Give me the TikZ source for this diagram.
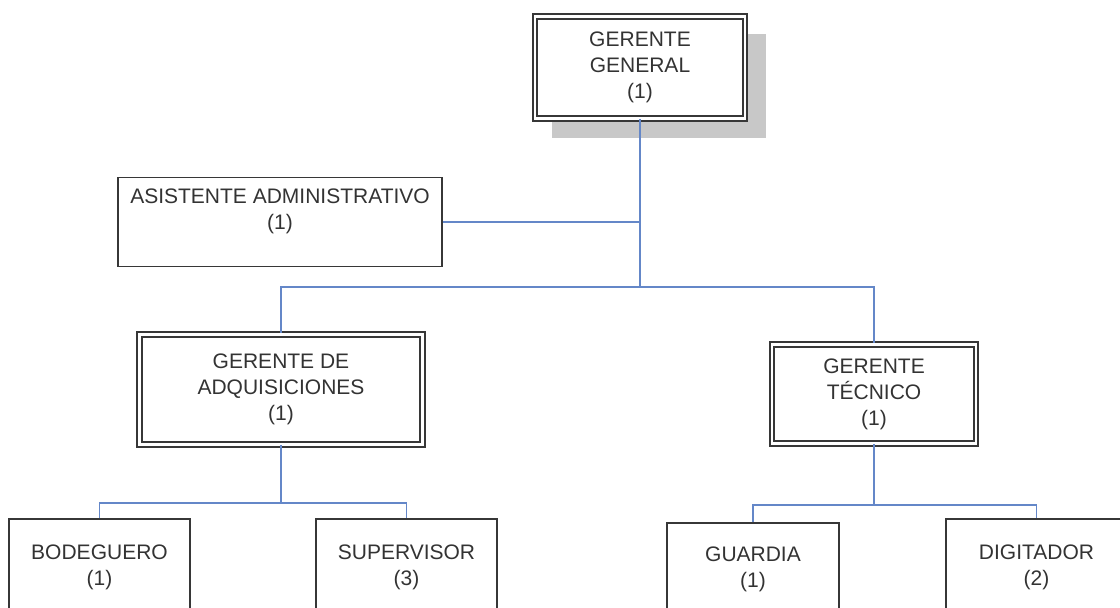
\documentclass[tikz,border=0pt]{standalone}
\usepackage{fontspec}
\setmainfont{Liberation Sans}
\usepackage{xcolor}
\usepackage{tikz}
\usetikzlibrary{shadows}
\definecolor{linkblue}{RGB}{100,135,200}
\definecolor{boxgray}{RGB}{55,55,55}
\definecolor{textgray}{RGB}{51,51,51}
\definecolor{shadowgray}{RGB}{200,200,200}

\begin{document}
\begin{tikzpicture}[
x=0.5pt, y=-0.5pt,
squarednode/.style={rectangle, draw=boxgray, line width=0.7pt, fill=white, align=center, text=textgray, font=\fontsize{10.5pt}{13pt}\selectfont, inner sep=0pt},
doublenode/.style={squarednode, line width=1pt, double=white, double distance=1.4pt},
link/.style={draw=linkblue, line width=0.7pt},
]
\useasboundingbox (0,0) rectangle (1120,608);
\clip (0,0) rectangle (1120,608);
\fill[white] (0,0) rectangle (1120,608);

%Nodes
\node[doublenode, minimum width=105pt, minimum height=51pt, drop shadow={shadow xshift=9.5pt, shadow yshift=-9pt, shadow scale=1.02, fill=shadowgray, opacity=1}](Gerente General) at (640,67.5) {GERENTE\\GENERAL\\(1)};

\node[squarednode, minimum width=162pt, minimum height=44.5pt, text depth=13pt](Asistente administrativo) at (280,222) {ASISTENTE ADMINISTRATIVO\\(1)};

\node[doublenode, minimum width=141.5pt, minimum height=55pt](Gerente de adquisiciones) at (281,389.5) {GERENTE DE\\ADQUISICIONES\\(1)};
\node[doublenode, minimum width=102pt, minimum height=49.5pt](Gerente tecnico) at (874,394) {GERENTE\\TÉCNICO\\(1)};

\node[squarednode, minimum width=90.5pt, minimum height=48pt](Bodeguero) at (99.5,567) {BODEGUERO\\(1)};
\node[squarednode, minimum width=90.5pt, minimum height=48pt](Supervisor) at (406.5,567) {SUPERVISOR\\(3)};
\node[squarednode, minimum width=86pt, minimum height=46pt](Guardia) at (753,569) {GUARDIA\\(1)};
\node[squarednode, minimum width=90.5pt, minimum height=48pt](Digitador) at (1036.5,567) {DIGITADOR\\(2)};

\coordinate (main split) at (640,287);
\coordinate (adquisiciones split) at (281,503);
\coordinate (tecnico split) at (874,505);

%Lines
\draw[link] (Gerente General.south) -- (main split);
\draw[link] (Asistente administrativo.east) -- (Asistente administrativo.east -| main split);
\draw[link] (main split) -| (Gerente de adquisiciones.north);
\draw[link] (main split) -| (Gerente tecnico.north);

\draw[link] (Gerente de adquisiciones.south) -- (adquisiciones split);
\draw[link] (Bodeguero.north) |- (adquisiciones split) -| (Supervisor.north);
\draw[link] (Gerente tecnico.south) -- (tecnico split);
\draw[link] (Guardia.north) |- (tecnico split) -| (Digitador.north);
\end{tikzpicture}
\end{document}
